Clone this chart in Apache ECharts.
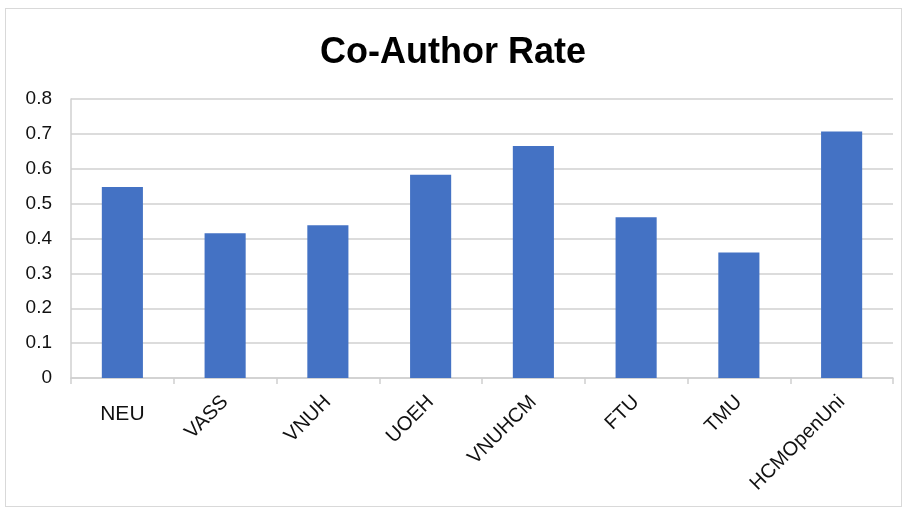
<!DOCTYPE html>
<html>
<head>
<meta charset="utf-8">
<script src="https://cdn.jsdelivr.net/npm/echarts@6/dist/echarts.min.js"></script>
<style>
html,body{margin:0;padding:0;background:#fff;}
#frame{position:absolute;left:5px;top:8px;width:897px;height:499px;border:1px solid #d9d9d9;box-sizing:border-box;}
#chart{position:absolute;left:0;top:0;width:906px;height:511px;}
</style>
</head>
<body>
<div id="frame"></div>
<div id="chart"></div>
<script>
const titleText = 'Co-Author Rate';
const categories = ['NEU', 'VASS', 'VNUH', 'UOEH', 'VNUHCM', 'FTU', 'TMU', 'HCMOpenUni'];
const rates = [0.548, 0.415, 0.438, 0.583, 0.665, 0.461, 0.360, 0.707];
const yTicks = [0, 0.1, 0.2, 0.3, 0.4, 0.5, 0.6, 0.7, 0.8];

const chart = echarts.init(document.getElementById('chart'), null, {renderer: 'canvas'});
const gridColor = '#d0d0d0';
chart.setOption({
  animation: false,
  title: {
    text: titleText,
    left: 'center',
    top: 30,
    textStyle: {fontFamily: 'Liberation Sans', fontWeight: 'bold', fontSize: 36, color: '#000'}
  },
  grid: {left: 71, right: 13, top: 99, bottom: 133, containLabel: false},
  xAxis: [{
    type: 'category',
    data: categories,
    axisLine: {show: true, lineStyle: {color: gridColor, width: 1.5}},
    axisTick: {show: true, alignWithLabel: false, length: 6, lineStyle: {color: gridColor, width: 1.5}},
    axisLabel: {
      rotate: 45, interval: 0, margin: 21,
      fontFamily: 'Liberation Sans', fontSize: 20, color: '#111',
      formatter: (v, i) => i === 0 ? '' : v
    }
  }, {
    type: 'category',
    position: 'bottom',
    data: categories,
    axisLine: {show: false},
    axisTick: {show: false},
    axisLabel: {
      rotate: 0, interval: 0, margin: 26,
      fontFamily: 'Liberation Sans', fontSize: 21, color: '#111',
      formatter: (v, i) => i === 0 ? v : ''
    }
  }],
  yAxis: {
    type: 'value',
    min: yTicks[0],
    max: yTicks[yTicks.length - 1],
    interval: 0.1,
    axisLine: {show: true, lineStyle: {color: gridColor, width: 1.5}},
    axisTick: {show: false},
    splitLine: {show: true, lineStyle: {color: gridColor, width: 1.5}},
    axisLabel: {
      margin: 19,
      fontFamily: 'Liberation Sans', fontSize: 19, color: '#111',
      formatter: v => (Math.round(v * 10) / 10).toString()
    }
  },
  series: [{
    type: 'bar',
    data: rates,
    barWidth: '40%',
    itemStyle: {color: '#4472C4'}
  }]
});
</script>
</body>
</html>
